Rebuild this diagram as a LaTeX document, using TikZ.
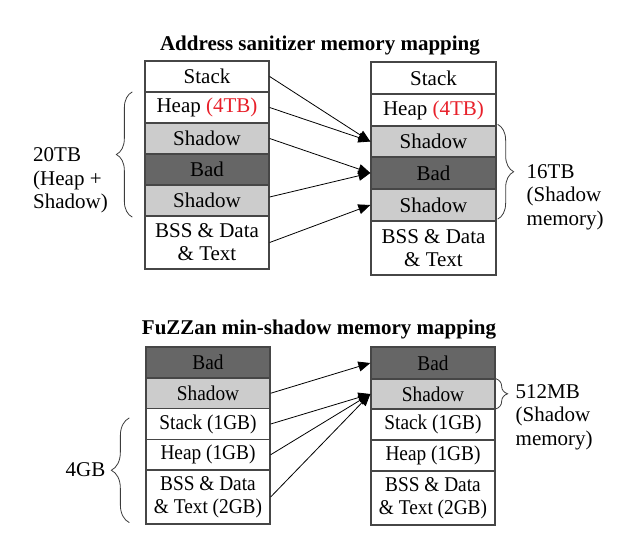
\documentclass[tikz,border=0pt]{standalone}
\usepackage{fontspec}
\setmainfont{Liberation Serif}
\newfontfamily\narrowserif{Liberation Serif}[FakeStretch=0.92]
\usetikzlibrary{arrows.meta,decorations.pathreplacing,calc}
\definecolor{bordergray}{RGB}{70,70,70}
\definecolor{shadowgray}{RGB}{204,204,204}
\definecolor{badgray}{RGB}{102,102,102}
\definecolor{bracegray}{RGB}{60,60,60}
\definecolor{sizered}{RGB}{232,32,42}
\newcommand\bodyfs{\fontsize{21}{23}\selectfont}
\newcommand\narrowfs{\narrowserif\fontsize{21}{23}\selectfont}
\begin{document}
\begin{tikzpicture}[x=1pt,y=-1pt,
  cell/.style={draw=bordergray, line width=1.3pt, minimum width=124pt, inner sep=0pt, align=center, font=\bodyfs},
  ncell/.style={cell, font=\narrowfs},
  wfill/.style={fill=white},
  sfill/.style={fill=shadowgray},
  bfill/.style={fill=badgray},
  titlelab/.style={font=\fontsize{21}{23}\selectfont\bfseries, inner sep=0pt},
  sidelab/.style={font=\fontsize{21}{23.5}\selectfont, align=left, inner sep=0pt},
  arr/.style={-{Triangle[length=12pt,width=10pt]}, line width=0.8pt, black},
  brc/.style={decorate, decoration={brace, amplitude=#1}, draw=bracegray, line width=0.8pt}
]
\useasboundingbox (0,0) rectangle (630,554);

% ---------- Titles ----------
\node[titlelab] (t1) at (320,46) {Address sanitizer memory mapping};
\node[titlelab] (t2) at (319,330) {FuZZan min-shadow memory mapping};

% ---------- Top left column ----------
\node[cell,wfill,minimum height=31pt] (TLstack) at (207,76.5) {Stack};
\node[cell,wfill,minimum height=31pt] (TLheap) at (207,107.5) {Heap \textcolor{sizered}{(4TB)}};
\node[cell,sfill,minimum height=31pt] (TLsha) at (207,138.5) {Shadow};
\node[cell,bfill,minimum height=31pt] (TLbad) at (207,169.5) {Bad};
\node[cell,sfill,minimum height=31pt] (TLshb) at (207,200.5) {Shadow};
\node[cell,wfill,minimum height=53pt] (TLbss) at (207,242.5) {BSS \& Data\\\& Text};

% ---------- Top right column ----------
\node[cell,wfill,minimum width=125pt,minimum height=32pt] (TRstack) at (433.5,78) {Stack};
\node[cell,wfill,minimum width=125pt,minimum height=32pt] (TRheap) at (433.5,110) {Heap \textcolor{sizered}{(4TB)}};
\node[cell,sfill,minimum width=125pt,minimum height=31pt] (TRsha) at (433.5,141.5) {Shadow};
\node[cell,bfill,minimum width=125pt,minimum height=32pt] (TRbad) at (433.5,173) {Bad};
\node[cell,sfill,minimum width=125pt,minimum height=32pt] (TRshb) at (433.5,205) {Shadow};
\node[cell,wfill,minimum width=125pt,minimum height=54pt] (TRbss) at (433.5,248) {BSS \& Data\\\& Text};

% ---------- Bottom left column ----------
\node[ncell,bfill,minimum height=31pt] (BLbad) at (208,362.5) {Bad};
\node[ncell,sfill,minimum height=30.5pt] (BLsh) at (208,393.25) {Shadow};
\node[ncell,wfill,minimum height=31pt] (BLstack) at (208,424) {Stack (1GB)};
\node[ncell,wfill,minimum height=30.5pt] (BLheap) at (208,454.75) {Heap (1GB)};
\node[ncell,wfill,minimum height=54pt] (BLbss) at (208,497) {BSS \& Data\\\& Text (2GB)};

% ---------- Bottom right column ----------
\node[ncell,bfill,minimum height=32pt] (BRbad) at (433,363) {Bad};
\node[ncell,sfill,minimum height=30pt] (BRsh) at (433,394) {Shadow};
\node[ncell,wfill,minimum height=31pt] (BRstack) at (433,424.5) {Stack (1GB)};
\node[ncell,wfill,minimum height=31pt] (BRheap) at (433,455.5) {Heap (1GB)};
\node[ncell,wfill,minimum height=54pt] (BRbss) at (433,498) {BSS \& Data\\\& Text (2GB)};

% ---------- Arrows (top) ----------
\draw[arr] (TLstack.east) -- (TRsha.west);
\draw[arr] (TLheap.east) -- (TRsha.west);
\draw[arr] (TLsha.east) -- (TRbad.west);
\draw[arr] ($(TLshb.east)+(0,-3.5)$) -- (TRbad.west);
\draw[arr] (TLbss.east) -- (TRshb.west);

% ---------- Arrows (bottom) ----------
\draw[arr] (BLsh.east) -- (BRbad.west);
\draw[arr] (BLstack.east) -- (BRsh.west);
\draw[arr] (BLheap.east) -- (BRsh.west);
\draw[arr] (BLbss.east) -- (BRsh.west);

% ---------- Braces ----------
\coordinate (b1s) at ($(TLshb.south west)+(-12,0.5)$);
\coordinate (b1e) at ($(TLheap.north west)+(-12,0.5)$);
\draw[brc=16pt] (b1s) -- (b1e);

\coordinate (b2s) at ($(TRsha.north east)+(1,-1)$);
\coordinate (b2e) at ($(TRshb.south east)+(1,-2.5)$);
\draw[brc=16pt] (b2s) -- (b2e);

\coordinate (b3s) at ($(BRsh.north east)+(0,0.3)$);
\coordinate (b3e) at ($(BRsh.south east)+(0,-0.7)$);
\draw[brc=12pt] (b3s) -- (b3e);

\coordinate (b4s) at ($(BLbss.south west)+(-16,-2)$);
\coordinate (b4e) at ($(BLstack.north west)+(-16,10)$);
\draw[brc=18pt] (b4s) -- (b4e);

% ---------- Side labels ----------
\node[sidelab,anchor=west] (l20) at (33,180.7) {20TB\\(Heap +\\Shadow)};
\node[sidelab,anchor=west] (l16) at (526.5,197) {16TB\\(Shadow\\memory)};
\node[sidelab,anchor=west] (l512) at (515.5,417) {512MB\\(Shadow\\memory)};
\node[sidelab,anchor=east] (l4) at (105.5,470) {4GB};
\end{tikzpicture}
\end{document}
